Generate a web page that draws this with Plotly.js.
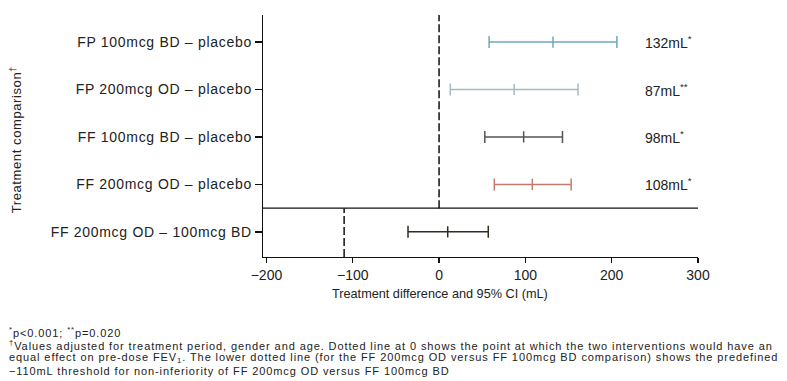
<!DOCTYPE html>
<html>
<head>
<meta charset="utf-8">
<script src="https://cdn.plot.ly/plotly-3.0.1.min.js"></script>
<style>
html,body{margin:0;padding:0;background:#fff;}
#chart{width:787px;height:381px;}
</style>
</head>
<body>
<div id="chart"></div>
<script>
// Data
var comparisons = [
  "FP 100mcg BD \u2013 placebo",
  "FP 200mcg OD \u2013 placebo",
  "FF 100mcg BD \u2013 placebo",
  "FF 200mcg OD \u2013 placebo",
  "FF 200mcg OD \u2013 100mcg BD"
];
var rowPos = [4, 3, 2, 1, 0];
var difference = [132, 87, 98, 108, 10];
var ciLower = [58, 13, 53, 64, -36];
var ciUpper = [206, 161, 143, 153, 57];
var valueLabels = ["132mL<sup>*</sup>", "87mL<sup>**</sup>", "98mL<sup>*</sup>", "108mL<sup>*</sup>", ""];
var colors = ["#6fa9b7", "#a3bcc1", "#555555", "#c47a6c", "#2e2e22"];
var xTicks = [-200, -100, 0, 100, 200, 300];
var zeroLine = 0;
var nonInferiorityMargin = -110;
var footnotes = [
  "<sup>*</sup>p<0.001; <sup>**</sup>p=0.020",
  "<sup>\u2020</sup>Values adjusted for treatment period, gender and age. Dotted line at 0 shows the point at which the two interventions would have an",
  "equal effect on pre-dose FEV<sub>1</sub>. The lower dotted line (for the FF 200mcg OD versus FF 100mcg BD comparison) shows the predefined",
  "\u2212110mL threshold for non-inferiority of FF 200mcg OD versus FF 100mcg BD"
];

var FONT = "Liberation Sans, Arial, sans-serif";
var L = 263, R = 89, T = 15, B = 124, W = 787, H = 381;
var pw = W - L - R, ph = H - T - B;
function px(X){ return (X - L) / pw; }
function py(Y){ return (H - B - Y) / ph; }

var traces = comparisons.map(function(c, i){
  return {
    type: "scatter",
    mode: "markers",
    x: [difference[i]],
    y: [rowPos[i]],
    marker: {symbol: "line-ns-open", size: 8, color: colors[i], line: {color: colors[i], width: 1.5}},
    error_x: {
      type: "data", symmetric: false,
      array: [ciUpper[i] - difference[i]],
      arrayminus: [difference[i] - ciLower[i]],
      color: colors[i], thickness: 1.5, width: 6
    },
    showlegend: false,
    hoverinfo: "skip"
  };
});

var annotations = [];
comparisons.forEach(function(c, i){
  if (valueLabels[i]) {
    annotations.push({
      x: 236, y: rowPos[i], xref: "x", yref: "y",
      text: valueLabels[i], showarrow: false, xanchor: "left", yanchor: "middle",
      font: {family: FONT, size: 14, color: "#222"}
    });
  }
});
annotations.push({
  x: px(440), y: py(294), xref: "paper", yref: "paper",
  text: "Treatment difference and 95% CI (mL)", showarrow: false,
  xanchor: "center", yanchor: "middle",
  font: {family: FONT, size: 12.7, color: "#222"}
});
var yTitleIndex = annotations.length;
annotations.push({
  x: px(16), y: py(140), xref: "paper", yref: "paper",
  text: "Treatment comparison<sup>\u2020</sup>", showarrow: false, textangle: -90,
  xanchor: "center", yanchor: "middle",
  font: {family: FONT, size: 13, color: "#222"}
});
var footStart = annotations.length;
var footY = [332, 345, 358, 371];
footnotes.forEach(function(t, i){
  annotations.push({
    x: px(7), y: py(footY[i]), xref: "paper", yref: "paper",
    text: t, showarrow: false, xanchor: "left", yanchor: "middle", align: "left",
    font: {family: FONT, size: 11, color: "#222"}
  });
});

var shapes = [
  {type: "line", xref: "x", yref: "y", x0: zeroLine, x1: zeroLine, y0: 0.5, y1: 4.57,
   line: {color: "#111", width: 1.5, dash: "8px,3px"}},
  {type: "line", xref: "x", yref: "y", x0: nonInferiorityMargin, x1: nonInferiorityMargin, y0: -0.53, y1: 0.5,
   line: {color: "#111", width: 1.5, dash: "8px,3px"}},
  {type: "line", xref: "paper", yref: "y", x0: 0, x1: 1, y0: 0.5, y1: 0.5,
   line: {color: "#111", width: 1.3}}
];

var layout = {
  width: W, height: H,
  margin: {l: L, r: R, t: T, b: B, pad: 0},
  paper_bgcolor: "#fff", plot_bgcolor: "#fff",
  xaxis: {
    range: [-204, 300], tickvals: xTicks, ticktext: xTicks.map(function(v){ return v < 0 ? "\u2212" + Math.abs(v) : String(v); }),
    showgrid: false, zeroline: false, showline: true, linecolor: "#111", linewidth: 1.3,
    ticks: "outside", ticklen: 5, tickwidth: 1.3, tickcolor: "#111",
    tickfont: {family: FONT, size: 14, color: "#222"}, fixedrange: true
  },
  yaxis: {
    range: [-0.53, 4.57], tickvals: rowPos, ticktext: comparisons,
    showgrid: false, zeroline: false, showline: true, linecolor: "#111", linewidth: 1.3,
    ticks: "outside", ticklen: 7, tickwidth: 1.3, tickcolor: "#111",
    tickfont: {family: FONT, size: 14, color: "#222"}, fixedrange: true
  },
  shapes: shapes,
  annotations: annotations,
  showlegend: false
};

Plotly.newPlot("chart", traces, layout, {staticPlot: true, displayModeBar: false}).then(function(gd){
  // slightly wider tracking, as in the reference typeface
  gd.querySelectorAll(".ytick text").forEach(function(t){ t.style.letterSpacing = "0.7px"; });
  gd.querySelectorAll(".annotation").forEach(function(a){
    var idx = +a.getAttribute("data-index");
    var ls = null;
    if (idx >= footStart) ls = "0.9px";
    else if (idx === yTitleIndex) ls = "0.6px";
    if (ls) a.querySelectorAll("text").forEach(function(t){ t.style.letterSpacing = ls; });
  });
});
</script>
</body>
</html>
